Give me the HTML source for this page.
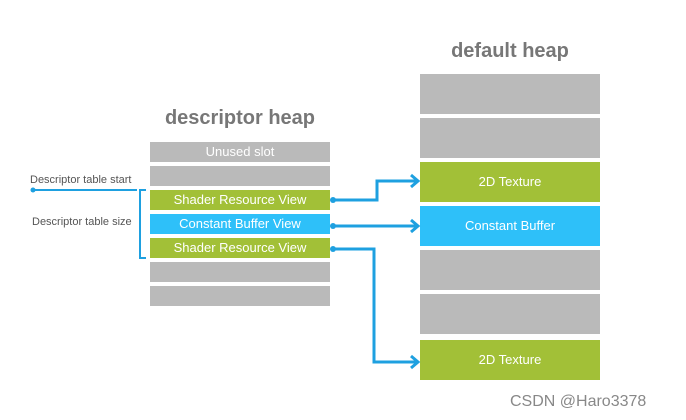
<!DOCTYPE html>
<html><head><style>
body{margin:0;width:686px;height:420px;background:#fff;position:relative;overflow:hidden;font-family:"Liberation Sans",sans-serif}
.r{position:absolute;background:#bababa;color:#fff;font-size:13px;text-align:center}
.g{background:#a2c037}.b{background:#2ec0f9}
.t{position:absolute;color:#777;font-weight:bold;font-size:20px;text-align:center}
.l{position:absolute;color:#555;font-size:11px}
</style></head><body>
<div class="t" style="left:140px;width:200px;top:107px">descriptor heap</div>
<div class="t" style="left:410px;width:200px;top:40px">default heap</div>
<div class="r" style="left:150px;top:142px;width:180px;height:20px;line-height:20px">Unused slot</div>
<div class="r" style="left:150px;top:166px;width:180px;height:20px"></div>
<div class="r g" style="left:150px;top:190px;width:180px;height:20px;line-height:20px">Shader Resource View</div>
<div class="r b" style="left:150px;top:214px;width:180px;height:20px;line-height:20px">Constant Buffer View</div>
<div class="r g" style="left:150px;top:238px;width:180px;height:20px;line-height:20px">Shader Resource View</div>
<div class="r" style="left:150px;top:262px;width:180px;height:20px"></div>
<div class="r" style="left:150px;top:286px;width:180px;height:20px"></div>

<div class="r" style="left:420px;top:74px;width:180px;height:40px"></div>
<div class="r" style="left:420px;top:118px;width:180px;height:40px"></div>
<div class="r g" style="left:420px;top:162px;width:180px;height:40px;line-height:40px">2D Texture</div>
<div class="r b" style="left:420px;top:206px;width:180px;height:40px;line-height:40px">Constant Buffer</div>
<div class="r" style="left:420px;top:250px;width:180px;height:40px"></div>
<div class="r" style="left:420px;top:294px;width:180px;height:40px"></div>
<div class="r g" style="left:420px;top:340px;width:180px;height:40px;line-height:40px">2D Texture</div>

<div class="l" style="left:30px;top:174px">Descriptor table start</div>
<div class="l" style="left:32px;top:216px">Descriptor table size</div>
<div style="position:absolute;left:510px;top:393px;color:#888;font-size:16px">CSDN @Haro3378</div>

<svg width="686" height="420" style="position:absolute;left:0;top:0" fill="none" stroke="#1ea0e0" stroke-width="3">
<line x1="33" y1="190" x2="137" y2="190" stroke-width="2"/>
<circle cx="33" cy="190" r="2.5" fill="#1ea0e0" stroke="none"/>
<polyline points="146,190 140,190 140,258 146,258" stroke-width="2"/>
<polyline points="333,200 377,200 377,181 418,181"/>
<polyline points="333,226 418,226"/>
<polyline points="333,249 374,249 374,362 418,362"/>
<circle cx="333" cy="200" r="3" fill="#1ea0e0" stroke="none"/>
<circle cx="333" cy="226" r="3" fill="#1ea0e0" stroke="none"/>
<circle cx="333" cy="249" r="3" fill="#1ea0e0" stroke="none"/>
<polyline points="411,175 418,181 411,187"/>
<polyline points="411,220 418,226 411,232"/>
<polyline points="411,356 418,362 411,368"/>
</svg>
</body></html>
